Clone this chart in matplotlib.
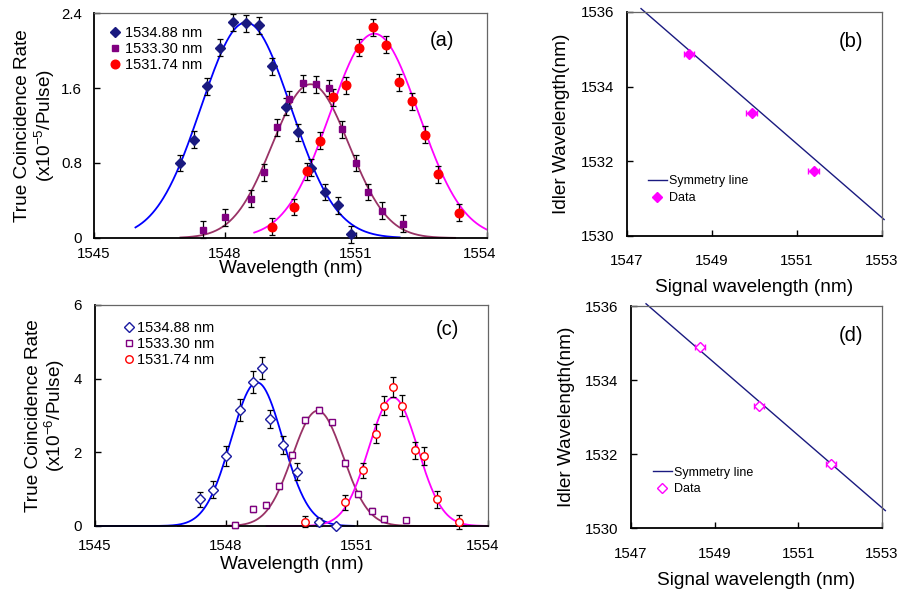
import numpy as np
import matplotlib
matplotlib.use("Agg")
import matplotlib.pyplot as plt
import matplotlib.transforms as mtransforms

plt.rcParams['font.family'] = ['Liberation Sans', 'DejaVu Sans']
plt.rcParams['mathtext.fontset'] = 'custom'
plt.rcParams['mathtext.rm'] = 'Liberation Sans'
plt.rcParams['mathtext.it'] = 'Liberation Sans:italic'

labels = ['1534.88 nm', '1533.30 nm', '1531.74 nm']

# ---- panel (a): coincidence rate, x10^-5 / pulse
a_blue_x = [1546.98, 1547.29, 1547.59, 1547.89, 1548.19, 1548.48, 1548.79, 1549.08,
            1549.39, 1549.68, 1549.98, 1550.28, 1550.58, 1550.89]
a_blue_y = [0.80, 1.05, 1.62, 2.03, 2.30, 2.29, 2.27, 1.83, 1.40, 1.13, 0.75, 0.49, 0.35, 0.04]
a_purple_x = [1547.49, 1547.99, 1548.59, 1548.89, 1549.18, 1549.47, 1549.78, 1550.08,
              1550.38, 1550.69, 1550.99, 1551.28, 1551.60, 1552.07]
a_purple_y = [0.09, 0.22, 0.42, 0.70, 1.18, 1.48, 1.65, 1.64, 1.60, 1.16, 0.80, 0.49, 0.29, 0.15]
a_red_x = [1549.08, 1549.58, 1549.88, 1550.18, 1550.48, 1550.78, 1551.08, 1551.38,
           1551.68, 1551.98, 1552.28, 1552.58, 1552.88, 1553.37]
a_red_y = [0.12, 0.33, 0.71, 1.04, 1.50, 1.63, 2.03, 2.25, 2.06, 1.66, 1.46, 1.10, 0.68, 0.27]
a_err = 0.09

# gaussian fits: centre, peak, sigma, start, end
a_fit_center = [1548.48, 1549.96, 1551.42]
a_fit_peak = [2.30, 1.64, 2.18]
a_fit_sigma = [1.03, 0.88, 1.02]
a_fit_start = [1545.95, 1546.98, 1548.67]
a_fit_end = [1552.0, 1553.27, 1554.0]

# ---- panel (c): coincidence rate, x10^-6 / pulse
c_blue_x = [1547.40, 1547.71, 1548.01, 1548.31, 1548.61, 1548.82, 1549.01, 1549.31,
            1549.62, 1550.13, 1550.53]
c_blue_y = [0.72, 0.99, 1.91, 3.15, 3.92, 4.30, 2.91, 2.19, 1.47, 0.11, 0.0]
c_blue_err = [0.21, 0.23, 0.27, 0.30, 0.30, 0.30, 0.24, 0.24, 0.23, 0.10, 0.0]
c_purple_x = [1548.21, 1548.62, 1548.92, 1549.22, 1549.52, 1549.82, 1550.12, 1550.43,
              1550.72, 1551.03, 1551.34, 1551.63, 1552.13]
c_purple_y = [0.02, 0.45, 0.56, 1.08, 1.94, 2.87, 3.14, 2.81, 1.71, 0.86, 0.41, 0.19, 0.15]
c_purple_err = 0.08
c_red_x = [1549.82, 1550.72, 1551.13, 1551.43, 1551.63, 1551.83, 1552.03, 1552.33,
           1552.53, 1552.84, 1553.34]
c_red_y = [0.11, 0.64, 1.51, 2.51, 3.27, 3.77, 3.27, 2.06, 1.90, 0.72, 0.11]
c_red_err = [0.15, 0.20, 0.20, 0.25, 0.27, 0.28, 0.28, 0.23, 0.24, 0.23, 0.19]

c_fit_center = [1548.71, 1550.10, 1551.83]
c_fit_peak = [3.90, 3.13, 3.49]
c_fit_sigma = [0.59, 0.58, 0.56]
c_fit_start = [1545.0, 1546.9, 1548.93]
c_fit_end = [1550.93, 1553.5, 1554.0]

# ---- panels (b), (d): idler vs signal
idler = [1534.88, 1533.30, 1531.74]
b_signal = [1548.45, 1549.93, 1551.39]
d_signal = [1548.66, 1550.07, 1551.79]
signal_err = 0.12
b_sym_x = [1547.33, 1553.05]
b_sym_y = [1536.09, 1530.44]
d_sym_x = [1547.36, 1553.08]
d_sym_y = [1536.06, 1530.47]

marker_cols = ['#1a1a80', '#800080', '#ff0000']
fit_cols = ['#0000ff', '#993366', '#ff00ff']
markers = ['D', 's', 'o']
msizes = [4.8, 4.4, 6.2]

fig = plt.figure(figsize=(9.01, 5.92), dpi=100)
ax_a = fig.add_axes([0.1043, 0.598, 0.4362, 0.380])
ax_c = fig.add_axes([0.1054, 0.1115, 0.4362, 0.3733])
ax_b = fig.add_axes([0.6959, 0.6014, 0.2830, 0.3784])
ax_d = fig.add_axes([0.7003, 0.1081, 0.2786, 0.3750])


def style(ax):
    for s in ['left', 'bottom']:
        ax.spines[s].set_linewidth(1.3)
        ax.spines[s].set_color('black')
    for s in ['top', 'right']:
        ax.spines[s].set_linewidth(0.9)
        ax.spines[s].set_color('#666666')
    ax.tick_params(direction='in', length=4, width=1, labelsize=10.8)


def fits(ax, centers, peaks, sigmas, starts, ends):
    for c, p, s, x0, x1, col in zip(centers, peaks, sigmas, starts, ends, fit_cols):
        xx = np.linspace(x0, x1, 400)
        ax.plot(xx, p * np.exp(-(xx - c) ** 2 / (2 * s ** 2)), color=col, lw=1.3,
                zorder=2, clip_on=False)


def shift_last_xlabel(ax, dx):
    lab = ax.xaxis.get_major_ticks()[-1].label1
    lab.set_transform(lab.get_transform() +
                      mtransforms.ScaledTranslation(dx / 72, 0, fig.dpi_scale_trans))


# (a)
fits(ax_a, a_fit_center, a_fit_peak, a_fit_sigma, a_fit_start, a_fit_end)
series_a = [(a_blue_x, a_blue_y), (a_purple_x, a_purple_y), (a_red_x, a_red_y)]
for i, (x, y) in enumerate(series_a):
    ax_a.errorbar(x, y, yerr=a_err, fmt='none', ecolor='black', elinewidth=0.9,
                  capsize=2, capthick=0.9, zorder=3, clip_on=False)
    ax_a.plot(x, y, ls='none', marker=markers[i], ms=msizes[i], color=marker_cols[i],
              mec=marker_cols[i], label=labels[i], zorder=4, clip_on=False)
ax_a.set_xlim(1545, 1554)
ax_a.set_ylim(0, 2.4)
ax_a.set_xticks([1545, 1548, 1551, 1554])
ax_a.set_yticks([0, 0.8, 1.6, 2.4])
ax_a.set_yticklabels(['0', '0.8', '1.6', '2.4'])
style(ax_a)
ax_a.tick_params(axis='x', pad=6.3)
ax_a.tick_params(axis='y', pad=8.8)
shift_last_xlabel(ax_a, -5)
ax_a.set_xlabel('Wavelength (nm)', fontsize=13.7)
ax_a.xaxis.set_label_coords(0.5, -0.10)
ax_a.set_ylabel('True Coincidence Rate\n(x10$^{-5}$/Pulse)', fontsize=13.7, linespacing=1.1)
ax_a.yaxis.set_label_coords(-0.095, 0.5)
ax_a.legend(loc='upper left', bbox_to_anchor=(0.042, 0.944), frameon=False,
            fontsize=10.5, handlelength=0.6, handletextpad=0.38, labelspacing=0.15,
            borderpad=0, borderaxespad=0)
ax_a.text(0.886, 0.88, '(a)', transform=ax_a.transAxes, fontsize=14.5,
          ha='center', va='center')

# (c)
fits(ax_c, c_fit_center, c_fit_peak, c_fit_sigma, c_fit_start, c_fit_end)
series_c = [(c_blue_x, c_blue_y, c_blue_err), (c_purple_x, c_purple_y, c_purple_err),
            (c_red_x, c_red_y, c_red_err)]
for i, (x, y, e) in enumerate(series_c):
    ax_c.errorbar(x, y, yerr=e, fmt='none', ecolor='black', elinewidth=0.9,
                  capsize=2, capthick=0.9, zorder=3, clip_on=False)
    ax_c.plot(x, y, ls='none', marker=markers[i], ms=[4.6, 4.6, 5.4][i], mfc='white',
              mec=['#1a1aa0', '#800080', '#ff0000'][i], mew=1.0, label=labels[i],
              zorder=4, clip_on=False)
ax_c.set_xlim(1545, 1554)
ax_c.set_ylim(0, 6)
ax_c.set_xticks([1545, 1548, 1551, 1554])
ax_c.set_yticks([0, 2, 4, 6])
style(ax_c)
ax_c.tick_params(axis='x', pad=9.2)
ax_c.tick_params(axis='y', pad=9.5)
shift_last_xlabel(ax_c, -4)
ax_c.set_xlabel('Wavelength (nm)', fontsize=13.7)
ax_c.xaxis.set_label_coords(0.5, -0.135)
ax_c.set_ylabel('True Coincidence Rate\n(x10$^{-6}$/Pulse)', fontsize=13.7, linespacing=1.1)
ax_c.yaxis.set_label_coords(-0.07, 0.5)
ax_c.legend(loc='upper left', bbox_to_anchor=(0.075, 0.929), frameon=False,
            fontsize=10.5, handlelength=0.6, handletextpad=0.25, labelspacing=0.15,
            borderpad=0, borderaxespad=0)
ax_c.text(0.898, 0.887, '(c)', transform=ax_c.transAxes, fontsize=14.5,
          ha='center', va='center')

# (b) and (d)
for ax, sig, sx, sy, filled, tag, pos, lpos, ylab_x, xpad, xlab_y in [
        (ax_b, b_signal, b_sym_x, b_sym_y, True, '(b)', (0.878, 0.866), (0.082, 0.27),
         -0.223, 12.8, -0.19),
        (ax_d, d_signal, d_sym_x, d_sym_y, False, '(d)', (0.876, 0.869), (0.088, 0.277),
         -0.223, 13.5, -0.20)]:
    ax.plot(sx, sy, color='#1a1a80', lw=1.0, label='Symmetry line', clip_on=False, zorder=2)
    ax.errorbar(sig, idler, xerr=signal_err, fmt='none', ecolor='#ff00ff', elinewidth=1.0,
                capsize=2, capthick=1.0, zorder=3)
    ax.plot(sig, idler, ls='none', marker='D', ms=4.6,
            mfc='#ff00ff' if filled else 'white', mec='#ff00ff', mew=1.0,
            label='Data', zorder=4)
    ax.set_xlim(1547, 1553)
    ax.set_ylim(1530, 1536)
    ax.set_xticks([1547, 1549, 1551, 1553])
    ax.set_yticks([1530, 1532, 1534, 1536])
    style(ax)
    ax.tick_params(axis='x', pad=xpad)
    ax.tick_params(axis='y', pad=9.0)
    ax.set_xlabel('Signal wavelength (nm)', fontsize=13.7)
    ax.xaxis.set_label_coords(0.5, xlab_y)
    ax.set_ylabel('Idler Wavelength(nm)', fontsize=13.7)
    ax.yaxis.set_label_coords(ylab_x, 0.5)
    ax.legend(loc='upper left', bbox_to_anchor=lpos, frameon=False, fontsize=9,
              handlelength=1.5, handletextpad=0.2, labelspacing=0.36,
              borderpad=0, borderaxespad=0)
    ax.text(pos[0], pos[1], tag, transform=ax.transAxes, fontsize=14.5,
            ha='center', va='center')

fig.savefig('out.png', dpi=100)
